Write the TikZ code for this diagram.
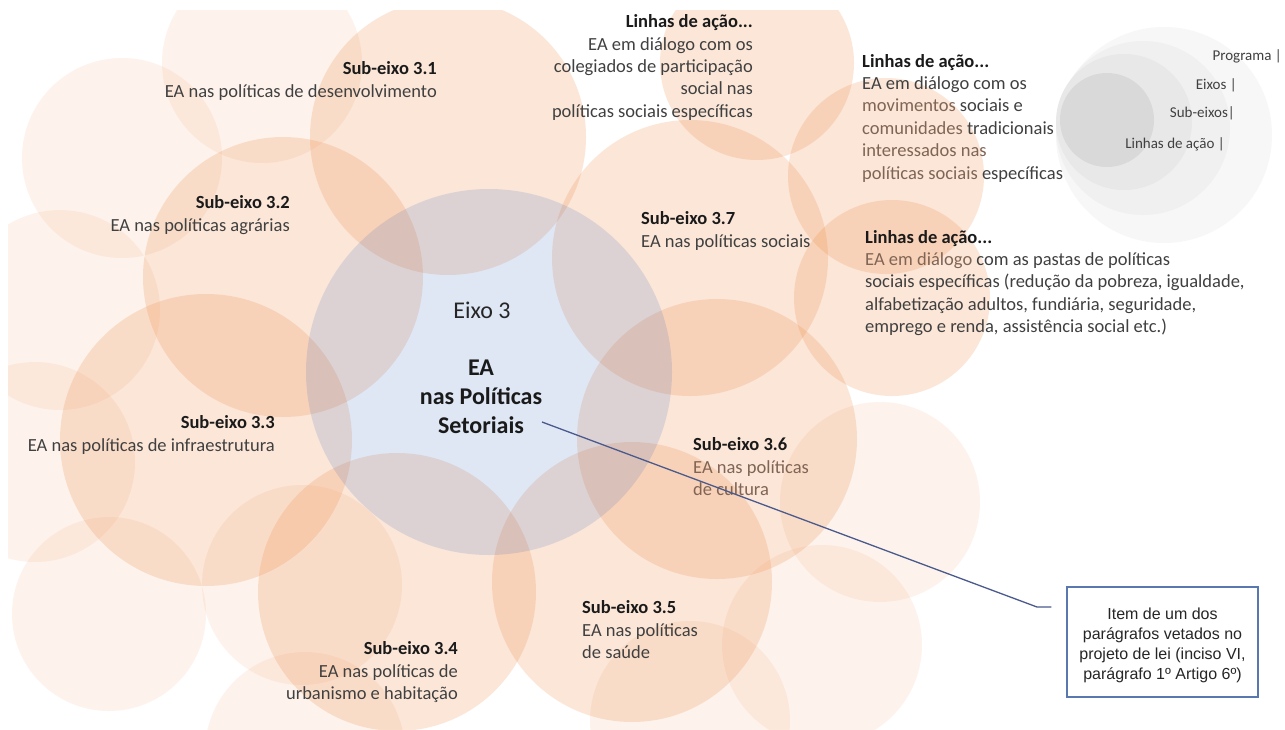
\documentclass[tikz,border=0pt]{standalone}
\usepackage{fontspec}
\setmainfont{Carlito}
\newfontfamily\arialf{Liberation Sans}
\definecolor{orng}{HTML}{ED7D31}
\definecolor{bluec}{HTML}{4472C4}
\definecolor{bodytxt}{HTML}{404040}
\definecolor{titletxt}{HTML}{1A1A1A}
\definecolor{tint}{RGB}{128,100,84}
\definecolor{linec}{HTML}{4A5A8C}
\definecolor{boxc}{HTML}{5A78B0}
\newcommand{\tn}[1]{{\color{tint}#1}}
\newcommand{\ttl}[1]{{\bfseries\color{titletxt}#1}}
\tikzset{
  lightc/.style={fill=orng, fill opacity=0.09},
  midc/.style={fill=orng, fill opacity=0.19},
  subc/.style={fill=orng, fill opacity=0.19},
  centc/.style={fill=bluec, fill opacity=0.17},
  txtblk/.style={inner sep=0pt, font=\fontsize{18.5}{22.4}\selectfont, text=bodytxt},
  legtxt/.style={inner sep=0pt, font=\fontsize{15}{18}\selectfont, text=bodytxt},
  centtxt/.style={inner sep=0pt, align=center, text=titletxt},
  notebox/.style={draw=boxc, line width=1.2pt, fill=white, inner sep=0pt,
    minimum width=191pt, minimum height=110pt},
  notetxt/.style={inner sep=0pt, align=center,
    font=\arialf\fontsize{16}{20}\selectfont, text=black!85},
  callout/.style={draw=linec, line width=1.3pt}
}
\begin{document}
\begin{tikzpicture}[x=1pt,y=-1pt]
\useasboundingbox (0,0) rectangle (1285,729);
\fill[white] (0,0) rectangle (1285,729);
% legend circles
\fill[black!3] (1164,135) circle[radius=108];
\fill[black!6] (1143,128) circle[radius=87];
\fill[black!9] (1124,122) circle[radius=68];
\fill[black!15] (1107,120) circle[radius=47];
\begin{scope}
\clip (8,10) rectangle (1285,729);
% light outer circles
\fill[lightc] (122,158) circle[radius=100];
\fill[lightc] (262,63) circle[radius=100];
\fill[lightc] (60,310) circle[radius=100];
\fill[lightc] (35,462) circle[radius=100];
\fill[lightc] (109,614) circle[radius=97];
\fill[lightc] (302,585) circle[radius=100];
\fill[lightc] (305,752) circle[radius=100];
\fill[lightc] (690,721) circle[radius=100];
\fill[lightc] (822,645) circle[radius=100];
\fill[lightc] (880,502) circle[radius=100];
% medium circles (linhas de acao of 3.7)
\fill[midc] (757,63) circle[radius=97];
\fill[midc] (886,176) circle[radius=98];
\fill[midc] (892,298) circle[radius=98];
% sub-eixo circles
\fill[subc] (448,137) circle[radius=138];
\fill[subc] (283,277) circle[radius=140];
\fill[subc] (206,440) circle[radius=146];
\fill[subc] (397,592) circle[radius=139];
\fill[subc] (632,582) circle[radius=140];
\fill[subc] (717,439) circle[radius=140];
\fill[subc] (690,258) circle[radius=138];
% central circle
\fill[centc] (489,372) circle[radius=183];
\end{scope}
% texts
\node[txtblk, align=right, anchor=north east] (s1) at (437,61.5)
  {\ttl{Sub-eixo 3.1}\\EA nas políticas de desenvolvimento};
\node[txtblk, align=right, anchor=north east] (s2) at (290,195.5)
  {\ttl{Sub-eixo 3.2}\\EA nas políticas agrárias};
\node[txtblk, align=right, anchor=north east] (s3) at (275,415.5)
  {\ttl{Sub-eixo 3.3}\\EA nas políticas de infraestrutura};
\node[txtblk, align=right, anchor=north east] (s4) at (458,641.5)
  {\ttl{Sub-eixo 3.4}\\EA nas políticas de\\urbanismo e habitação};
\node[txtblk, align=left, anchor=north west] (s5) at (582,600.5)
  {\ttl{Sub-eixo 3.5}\\EA nas políticas\\de saúde};
\node[txtblk, align=left, anchor=north west] (s6) at (693,437.5)
  {\ttl{Sub-eixo 3.6}\\\tn{EA nas políticas}\\\tn{de cultura}};
\node[txtblk, align=left, anchor=north west] (s7) at (641,211.5)
  {\ttl{Sub-eixo 3.7}\\EA nas políticas sociais};
\node[txtblk, align=right, anchor=north east] (la1) at (753,14.5)
  {\ttl{Linhas de ação...}\\EA em diálogo com os\\colegiados de participação\\social nas\\políticas sociais específicas};
\node[txtblk, align=left, anchor=north west] (la2) at (862,54)
  {\ttl{Linhas de ação...}\\EA em diálogo com os\\\tn{movimentos} sociais e\\\tn{comunidades} tradicionais\\\tn{interessados nas}\\\tn{políticas sociais} específicas};
\node[txtblk, align=left, anchor=north west] (la3) at (865,230)
  {\ttl{Linhas de ação...}\\\tn{EA em diálogo} com as pastas de políticas\\sociais específicas (redução da pobreza, igualdade,\\alfabetização adultos, fundiária, seguridade,\\emprego e renda, assistência social etc.)};
% centre
\node[centtxt, font=\fontsize{24}{29}\selectfont, text=black!85, anchor=mid] (eixo) at (482,316) {Eixo 3};
\node[centtxt, font=\bfseries\fontsize{24}{29}\selectfont, anchor=north] (ea) at (481,360)
  {EA\\nas Políticas\\Setoriais};
% legend labels
\node[legtxt, anchor=mid east] (lp) at (1282,58) {Programa |};
\node[legtxt, anchor=mid east] (le) at (1237,87) {Eixos |};
\node[legtxt, anchor=mid east] (ls) at (1235,115) {Sub-eixos|};
\node[legtxt, anchor=mid east] (ll) at (1225,146) {Linhas de ação |};
% note box and callout
\node[notebox] (box) at (1162.5,642) {};
\node[notetxt] (boxtxt) at (1162.5,645) {Item de um dos\\parágrafos vetados no\\projeto de lei (inciso VI,\\parágrafo 1º Artigo 6º)};
\coordinate (cstart) at (542,422);
\coordinate (cbend) at (1037,607);
\coordinate (cend) at ([xshift=-15pt]box.west |- cbend);
\draw[callout] (cstart) -- (cbend) -- (cend);
\end{tikzpicture}
\end{document}
